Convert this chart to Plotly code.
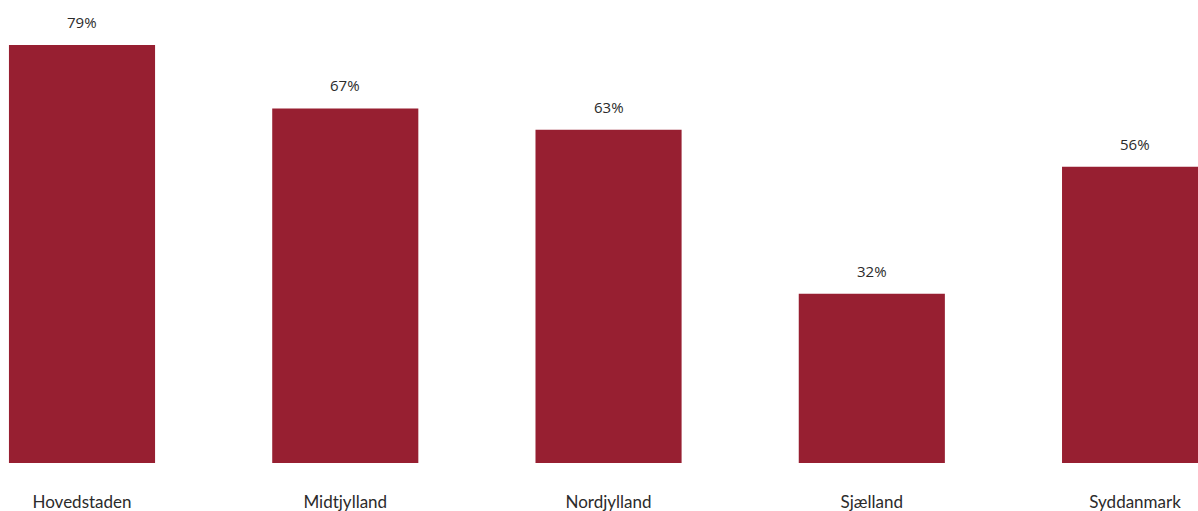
import plotly.graph_objects as go

categories = ["Hovedstaden", "Midtjylland", "Nordjylland", "Sjælland", "Syddanmark"]
values = [79, 67, 63, 32, 56]
labels = [f"{v}%" for v in values]

bar_color = "#971F31"
text_color = "#2b2b2b"

fig = go.Figure()
fig.add_trace(go.Bar(
    x=categories, y=values, width=0.555,
    marker=dict(color=bar_color, line=dict(width=0)),
    hoverinfo="skip",
))
for c, v, t in zip(categories, values, labels):
    fig.add_annotation(x=c, y=v, text=t, showarrow=False, yshift=23,
                       font=dict(family="Open Sans", size=15, color=text_color))

fig.update_layout(
    width=1198, height=511,
    margin=dict(l=0, r=0, t=0, b=48, autoexpand=False),
    plot_bgcolor="white", paper_bgcolor="white",
    showlegend=False,
    xaxis=dict(range=[-0.3115, 4.239], showgrid=False, showline=False, zeroline=False,
               ticks="", ticklabelstandoff=27, automargin=False,
               tickfont=dict(family="Lato", size=17, color=text_color)),
    yaxis=dict(range=[0, 87.5], visible=False, showgrid=False, zeroline=False,
               automargin=False),
)
fig.write_html("out.html", config={"displayModeBar": False},
               post_script="document.body.style.margin='0';document.body.style.overflow='hidden';")
